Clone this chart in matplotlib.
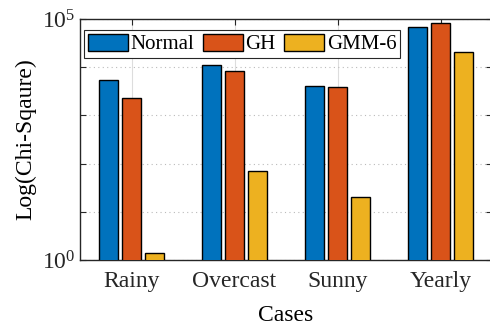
import numpy as np
import matplotlib
matplotlib.use('Agg')
import matplotlib.pyplot as plt
from matplotlib.ticker import NullFormatter

# Data
cases = ['Rainy', 'Overcast', 'Sunny', 'Yearly']
normal = [5400, 11200, 4150, 68000]
gh = [2260, 8500, 3830, 84000]
gmm6 = [1.42, 69, 20.2, 20800]

series = [('Normal', normal, '#0072BD'),
          ('GH', gh, '#D95319'),
          ('GMM-6', gmm6, '#EDB120')]

FONT = 'Liberation Serif'
FS = 17
plt.rcParams['mathtext.fontset'] = 'custom'
plt.rcParams['mathtext.rm'] = FONT
plt.rcParams['mathtext.it'] = FONT + ':italic'

fig = plt.figure(figsize=(4.9, 3.29), dpi=100)
ax = fig.add_axes([80 / 490, 69 / 329, 412 / 490, 241 / 329])

x = np.arange(1, len(cases) + 1)
w = 0.178
off = 0.222
for i, (name, vals, col) in enumerate(series):
    ax.bar(x + (i - 1) * off, vals, w, color=col, edgecolor='black',
           linewidth=1.0, label=name, zorder=3)

ax.set_yscale('log')
ax.set_ylim(1, 1e5)
ax.set_xlim(0.5, 4.5)
ax.set_xticks(x)
ax.set_xticklabels(cases, fontsize=FS, family=FONT)
ax.set_yticks([1, 1e5])
ax.set_yticklabels(['$10^0$', '$10^5$'], fontsize=FS, family=FONT)
ax.set_yticks([10, 100, 1000, 10000], minor=True)
ax.yaxis.set_minor_formatter(NullFormatter())
ax.tick_params(which='both', direction='in', top=True, right=True,
               length=4, width=0.8, colors='#262626', labelcolor='#262626')
ax.tick_params(axis='x', pad=8)

ax.grid(axis='x', color='#dddddd', linestyle='-', linewidth=0.8, zorder=0)
ax.grid(axis='y', which='both', color='#bbbbbb', linestyle=(0, (1, 3)),
        linewidth=0.8, zorder=0)
for s in ax.spines.values():
    s.set_color('#262626')
    s.set_linewidth(1.0)

ax.set_xlabel('Cases', fontsize=FS, family=FONT, labelpad=9)
ax.set_ylabel('Log(Chi-Sqaure)', fontsize=FS, family=FONT, labelpad=4)

leg = ax.legend(loc='upper left', bbox_to_anchor=(0.01, 0.954), ncol=3,
                prop={'family': FONT, 'size': 15}, frameon=True,
                fancybox=False, framealpha=1, edgecolor='#262626',
                handlelength=1.92, handleheight=0.86, handletextpad=0.12,
                columnspacing=0.42, borderpad=0.18, borderaxespad=0.0)
leg.get_frame().set_linewidth(0.8)

fig.savefig('out.png', dpi=100)
